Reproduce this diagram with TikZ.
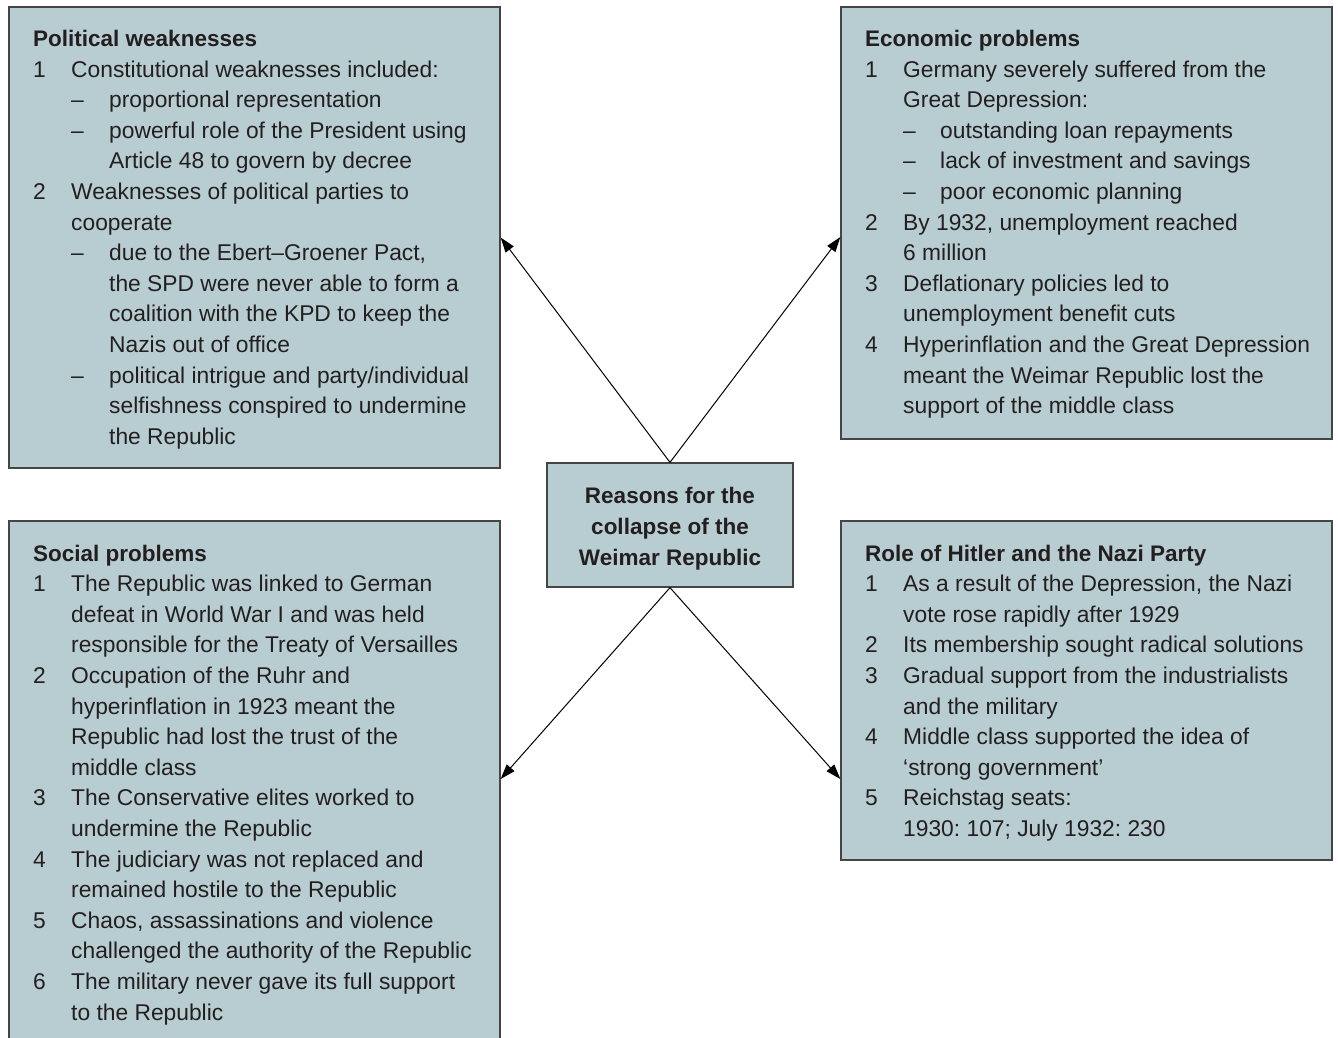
\documentclass[tikz,border=0pt]{standalone}
\usepackage{fontspec}
\setmainfont{Liberation Sans}
\usepackage{array}
\usetikzlibrary{arrows.meta}
\definecolor{boxfill}{HTML}{B8CDD1}
\definecolor{boxline}{HTML}{454545}
\definecolor{txt}{HTML}{231F20}
\newcommand{\xtitle}[1]{\multicolumn{3}{@{}l@{}}{\fontsize{22.5}{30.6}\selectfont\bfseries #1}\\}
\newcommand{\xitem}[2]{#1 & \multicolumn{2}{@{}l@{}}{#2}\\}
\newcommand{\xcont}[1]{& \multicolumn{2}{@{}l@{}}{#1}\\}
\newcommand{\xdash}[1]{& – & #1\\}
\newcommand{\xdcont}[1]{& & #1\\}
\frenchspacing
\begin{document}
\begin{tikzpicture}[x=1pt,y=-1pt,
  panel/.style={draw=boxline,fill=boxfill,line width=1.3pt,rectangle,inner sep=0pt},
  body/.style={inner sep=0pt,anchor=base west,text=txt,font=\fontsize{22.8}{30.6}\selectfont\frenchspacing},
  conn/.style={draw=black,line width=1pt,-{Triangle[length=15pt,width=10pt]}}]
\useasboundingbox (0,0) rectangle (1338,1038);
% panels
\node[panel,minimum width=491pt,minimum height=461pt] (pol) at (254.5,237.5) {};
\node[panel,minimum width=491pt,minimum height=432pt] (eco) at (1086.5,223) {};
\node[panel,minimum width=491pt,minimum height=529pt] (soc) at (254.5,785.5) {};
\node[panel,minimum width=491pt,minimum height=339pt] (hit) at (1086.5,690.5) {};
\node[panel,minimum width=246pt,minimum height=124pt] (ctr) at (670,525) {};
\node[inner sep=0pt,align=center,text=txt,
  font=\fontsize{22.5}{31}\selectfont\bfseries] (ctrtext) at (670,528.5)
  {Reasons for the\\collapse of the\\Weimar Republic};
% texts
\node[body] (poltext) at (33,46.5) {\begin{tabular}[t]{@{}p{38pt}@{}p{38pt}@{}l@{}}
\xtitle{Political weaknesses}
\xitem{1}{Constitutional weaknesses included:}
\xdash{proportional representation}
\xdash{powerful role of the President using}
\xdcont{Article 48 to govern by decree}
\xitem{2}{Weaknesses of political parties to}
\xcont{cooperate}
\xdash{due to the Ebert–Groener Pact,}
\xdcont{the SPD were never able to form a}
\xdcont{coalition with the KPD to keep the}
\xdcont{Nazis out of office}
\xdash{political intrigue and party/individual}
\xdcont{selfishness conspired to undermine}
\xdcont{the Republic}
\end{tabular}};
\node[body] (ecotext) at (865,46.5) {\begin{tabular}[t]{@{}p{38pt}@{}p{37pt}@{}l@{}}
\xtitle{Economic problems}
\xitem{1}{Germany severely suffered from the}
\xcont{Great Depression:}
\xdash{outstanding loan repayments}
\xdash{lack of investment and savings}
\xdash{poor economic planning}
\xitem{2}{By 1932, unemployment reached}
\xcont{6 million}
\xitem{3}{Deflationary policies led to}
\xcont{unemployment benefit cuts}
\xitem{4}{Hyperinflation and the Great Depression}
\xcont{meant the Weimar Republic lost the}
\xcont{support of the middle class}
\end{tabular}};
\node[body] (soctext) at (33,561) {\begin{tabular}[t]{@{}p{38pt}@{}p{38pt}@{}l@{}}
\xtitle{Social problems}
\xitem{1}{The Republic was linked to German}
\xcont{defeat in World War I and was held}
\xcont{responsible for the Treaty of Versailles}
\xitem{2}{Occupation of the Ruhr and}
\xcont{hyperinflation in 1923 meant the}
\xcont{Republic had lost the trust of the}
\xcont{middle class}
\xitem{3}{The Conservative elites worked to}
\xcont{undermine the Republic}
\xitem{4}{The judiciary was not replaced and}
\xcont{remained hostile to the Republic}
\xitem{5}{Chaos, assassinations and violence}
\xcont{challenged the authority of the Republic}
\xitem{6}{The military never gave its full support}
\xcont{to the Republic}
\end{tabular}};
\node[body] (hittext) at (865,561) {\begin{tabular}[t]{@{}p{38pt}@{}p{37pt}@{}l@{}}
\xtitle{Role of Hitler and the Nazi Party}
\xitem{1}{As a result of the Depression, the Nazi}
\xcont{vote rose rapidly after 1929}
\xitem{2}{Its membership sought radical solutions}
\xitem{3}{Gradual support from the industrialists}
\xcont{and the military}
\xitem{4}{Middle class supported the idea of}
\xcont{‘strong government’}
\xitem{5}{Reichstag seats:}
\xcont{1930: 107; July 1932: 230}
\end{tabular}};
% connectors
\draw[conn] (ctr.north) -- (pol.east);
\draw[conn] (ctr.north) -- ([yshift=-14pt]eco.west);
\draw[conn] (ctr.south) -- ([yshift=6.5pt]soc.east);
\draw[conn] (ctr.south) -- ([yshift=-88.5pt]hit.west);
\end{tikzpicture}
\end{document}
